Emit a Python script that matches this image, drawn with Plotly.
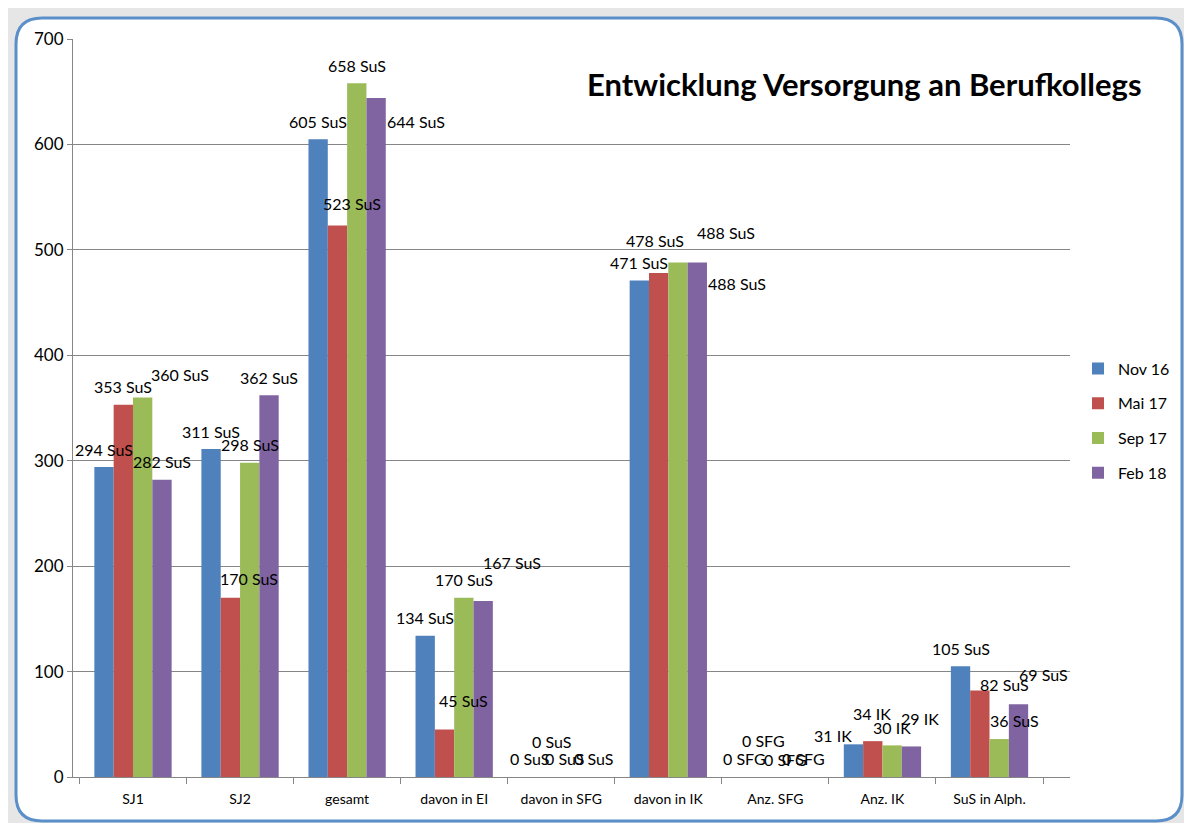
import plotly.graph_objects as go

categories = ["SJ1", "SJ2", "gesamt", "davon in EI", "davon in SFG",
              "davon in IK", "Anz. SFG", "Anz. IK", "SuS in Alph."]
units = ["SuS", "SuS", "SuS", "SuS", "SuS", "SuS", "SFG", "IK", "SuS"]
series_names = ["Nov 16", "Mai 17", "Sep 17", "Feb 18"]
nov16 = [294, 311, 605, 134, 0, 471, 0, 31, 105]
mai17 = [353, 170, 523, 45, 0, 478, 0, 34, 82]
sep17 = [360, 298, 658, 170, 0, 488, 0, 30, 36]
feb18 = [282, 362, 644, 167, 0, 488, 0, 29, 69]
y_ticks = [0, 100, 200, 300, 400, 500, 600, 700]

series_values = [nov16, mai17, sep17, feb18]
colors = ["#4F81BD", "#C0504D", "#9BBB59", "#8064A2"]

# label displacement (px) relative to default position above each bar: (series, category) -> (dx, dy)
DEFAULT = (0, -18)
label_offsets = {
    (2, 0): (37, -23),
    (1, 1): (19, -19),
    (1, 2): (15, -22), (3, 2): (40, 23),
    (1, 3): (19, -29), (3, 3): (29, -38),
    (0, 4): (-3, -19), (1, 4): (0, -36), (2, 4): (-6, -19), (3, 4): (3, -19),
    (1, 5): (-4, -33), (2, 5): (48, -30), (3, 5): (40, 21),
    (0, 6): (-2, -19), (1, 6): (-2, -37), (3, 6): (-1, -19),
    (0, 7): (-20, -9), (1, 7): (-1, -28), (3, 7): (9, -28),
    (1, 8): (25, -6), (2, 8): (15, -19), (3, 8): (25, -30),
}

# page has an 8px body margin; figure sized to fit the window without scrollbars
OFF = 8
W, H = 1176, 815
PLOT_LEFT, PLOT_RIGHT, PLOT_TOP, PLOT_BOTTOM = 73, 1070, 39, 777  # in screenshot px
L = PLOT_LEFT - OFF
T = PLOT_TOP - OFF
R = W - (PLOT_RIGHT - OFF)
B = H - (PLOT_BOTTOM - OFF)
PW = PLOT_RIGHT - PLOT_LEFT
PH = PLOT_BOTTOM - PLOT_TOP
BARGAP = 0.278
FONT = "Lato, 'Open Sans', sans-serif"


def px_x(p):
    return (p - PLOT_LEFT) / PW


def px_y(p):
    return (PLOT_BOTTOM - p) / PH


fig = go.Figure()
for k, (name, vals) in enumerate(zip(series_names, series_values)):
    fig.add_trace(go.Bar(
        x=categories, y=vals, name=name, marker_color=colors[k],
        marker_line_width=0, legendgroup=name,
    ))

bw = (1 - BARGAP) / 4
annotations = []
for k, vals in enumerate(series_values):
    for i, v in enumerate(vals):
        dx, dy = label_offsets.get((k, i), DEFAULT)
        annotations.append(dict(
            x=i + (k - 1.5) * bw, y=v, xref="x", yref="y",
            text=f"{v} {units[i]}", showarrow=False,
            xshift=dx, yshift=-dy, xanchor="center", yanchor="middle",
            font=dict(family=FONT, size=16, color="#000000"),
        ))

annotations.append(dict(
    x=px_x(864), y=px_y(84), xref="paper", yref="paper",
    text="<b>Entwicklung Versorgung an Berufkollegs</b>", showarrow=False,
    xanchor="center", yanchor="middle",
    font=dict(family=FONT, size=31, color="#000000"),
))


def rounded_path(x0, y0, x1, y1, r):
    X = px_x
    Y = px_y
    return (f"M {X(x0 + r)},{Y(y0)} L {X(x1 - r)},{Y(y0)} "
            f"Q {X(x1)},{Y(y0)} {X(x1)},{Y(y0 + r)} "
            f"L {X(x1)},{Y(y1 - r)} Q {X(x1)},{Y(y1)} {X(x1 - r)},{Y(y1)} "
            f"L {X(x0 + r)},{Y(y1)} Q {X(x0)},{Y(y1)} {X(x0)},{Y(y1 - r)} "
            f"L {X(x0)},{Y(y0 + r)} Q {X(x0)},{Y(y0)} {X(x0 + r)},{Y(y0)} Z")


shapes = [dict(type="path", xref="paper", yref="paper",
               path=rounded_path(16, 18, 1182, 821, 26),
               fillcolor="#ffffff", line=dict(color="#5b8fc9", width=3),
               layer="below")]

fig.update_layout(
    width=W, height=H,
    margin=dict(l=L, r=R, t=T, b=B, pad=0, autoexpand=False),
    paper_bgcolor="#e6e6e6", plot_bgcolor="rgba(0,0,0,0)",
    barmode="group", bargap=BARGAP, bargroupgap=0,
    font=dict(family=FONT, size=16, color="#000000"),
    showlegend=True,
    legend=dict(x=px_x(1078), y=px_y(421), xanchor="left", yanchor="middle",
                bgcolor="rgba(0,0,0,0)", font=dict(family=FONT, size=16),
                tracegroupgap=11, itemwidth=30),
    annotations=annotations,
    shapes=shapes,
)
fig.update_xaxes(
    type="category", tickson="boundaries", ticks="outside", ticklen=6,
    tickcolor="#868686", showline=True, linecolor="#868686", linewidth=1,
    showgrid=False, ticklabelstandoff=9,
    tickfont=dict(family=FONT, size=14, color="#000000"),
)
fig.update_yaxes(
    range=[0, 700], tickvals=y_ticks, ticks="outside", ticklen=5,
    tickcolor="#868686", showline=True, linecolor="#868686", linewidth=1,
    showgrid=True, gridcolor="#868686", gridwidth=1, zeroline=False,
    tickfont=dict(family=FONT, size=17, color="#000000"),
)

fig.write_html("out.html")
